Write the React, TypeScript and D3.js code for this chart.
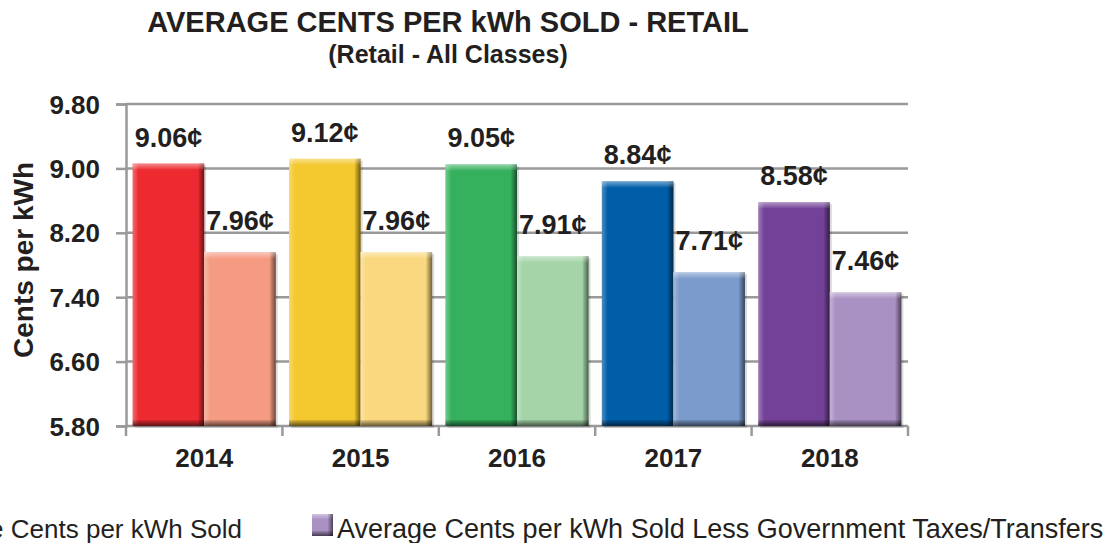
import React, { useEffect, useRef } from 'react';
import * as d3 from 'd3';

const years = ['2014', '2015', '2016', '2017', '2018'];
const soldValues = [9.06, 9.12, 9.05, 8.84, 8.58];
const lessTaxValues = [7.96, 7.96, 7.91, 7.71, 7.46];
const soldColors = ['#ec2a2f', '#f4c82f', '#35b15d', '#005da8', '#744199'];
const lessColors = ['#f59b82', '#f9d87f', '#a4d4a8', '#7a9bcb', '#a991c4'];
const yTicks = [5.8, 6.6, 7.4, 8.2, 9.0, 9.8];
const seriesNames = ['Average Cents per kWh Sold', 'Average Cents per kWh Sold Less Government Taxes/Transfers'];

const App = () => {
  const ref = useRef<SVGSVGElement>(null);

  useEffect(() => {
    const width = 1117;
    const height = 543;
    const left = 126, right = 908, top = 104, bottom = 426;
    const font = 'Arial, "Liberation Sans", sans-serif';
    const ink = '#231f20';

    const svg = d3.select(ref.current);
    svg.selectAll('*').remove();
    svg.attr('width', width).attr('height', height);

    const defs = svg.append('defs');
    const addGrad = (id, x2, y2, stops) => {
      const g = defs.append('linearGradient').attr('id', id)
        .attr('x1', 0).attr('y1', 0).attr('x2', x2).attr('y2', y2);
      stops.forEach(s => g.append('stop').attr('offset', s[0]).attr('stop-color', s[1]).attr('stop-opacity', s[2]));
    };
    addGrad('bevTop', 0, 1, [[0, '#fff', 0.45], [1, '#fff', 0.05]]);
    addGrad('bevLeft', 1, 0, [[0, '#fff', 0.3], [1, '#fff', 0]]);
    addGrad('bevRight', 1, 0, [[0, '#000', 0.05], [1, '#000', 0.55]]);
    addGrad('bevBottom', 0, 1, [[0, '#000', 0.1], [1, '#000', 0.6]]);

    const y = d3.scaleLinear().domain([5.8, 9.8]).range([bottom, top]);
    const x0 = d3.scaleBand().domain(years).range([left, right]).paddingInner(0.085).paddingOuter(0.0425);
    const x1 = d3.scaleBand().domain(['sold', 'less']).range([0, x0.bandwidth()]);

    // title
    svg.append('text').attr('x', 448).attr('y', 32).attr('text-anchor', 'middle')
      .attr('font-family', font).attr('font-weight', 'bold').attr('font-size', 29).attr('fill', ink)
      .text('AVERAGE CENTS PER kWh SOLD - RETAIL');
    svg.append('text').attr('x', 448).attr('y', 63).attr('text-anchor', 'middle')
      .attr('font-family', font).attr('font-weight', 'bold').attr('font-size', 25).attr('fill', ink)
      .text('(Retail - All Classes)');

    // grid
    svg.append('g').selectAll('line').data(yTicks.slice(1)).enter().append('line')
      .attr('x1', left).attr('x2', right).attr('y1', d => y(d)).attr('y2', d => y(d))
      .attr('stroke', '#999').attr('stroke-width', 2.5);

    // y axis
    const yAxis = svg.append('g').attr('transform', `translate(${left},0)`)
      .call(d3.axisLeft(y).tickValues(yTicks).tickFormat(d3.format('.2f')).tickSize(10).tickPadding(16));
    yAxis.select('.domain').attr('stroke', '#999').attr('stroke-width', 2.5);
    yAxis.selectAll('.tick line').attr('stroke', '#999').attr('stroke-width', 2.5);
    yAxis.selectAll('.tick text').attr('font-family', font).attr('font-weight', 'bold')
      .attr('font-size', 26).attr('fill', ink).attr('dy', '0.35em');

    // x axis
    const xAxis = svg.append('g').attr('transform', `translate(0,${bottom})`);
    xAxis.append('line').attr('x1', left).attr('x2', right).attr('stroke', '#999').attr('stroke-width', 2.5);
    const step = x0.step();
    const bounds = d3.range(years.length + 1).map(i => left + i * step);
    xAxis.selectAll('.xt').data(bounds).enter().append('line')
      .attr('x1', d => d).attr('x2', d => d).attr('y1', 0).attr('y2', 10)
      .attr('stroke', '#999').attr('stroke-width', 2.5);
    xAxis.selectAll('.xl').data(years).enter().append('text')
      .attr('x', d => x0(d) + x0.bandwidth() / 2).attr('y', 41).attr('text-anchor', 'middle')
      .attr('font-family', font).attr('font-weight', 'bold').attr('font-size', 26).attr('fill', ink)
      .text(d => d);

    // y title
    svg.append('text').attr('transform', `translate(33,260) rotate(-90)`).attr('text-anchor', 'middle')
      .attr('font-family', font).attr('font-weight', 'bold').attr('font-size', 28).attr('fill', ink)
      .text('Cents per kWh');

    const bars = [];
    years.forEach((yr, i) => {
      bars.push({ yr, key: 'sold', v: soldValues[i], c: soldColors[i] });
      bars.push({ yr, key: 'less', v: lessTaxValues[i], c: lessColors[i] });
    });

    const bw = x1.bandwidth();
    const bev = 6;
    const g = svg.append('g').selectAll('g').data(bars).enter().append('g')
      .attr('transform', d => `translate(${x0(d.yr) + x1(d.key)},${y(d.v)})`);
    g.append('rect').attr('x', 2).attr('y', 2).attr('width', bw).attr('height', d => bottom - y(d.v))
      .attr('fill', '#000').attr('opacity', 0.15);
    g.append('rect').attr('width', bw).attr('height', d => bottom - y(d.v)).attr('fill', d => d.c);
    g.append('rect').attr('width', bev).attr('height', d => bottom - y(d.v)).attr('fill', 'url(#bevLeft)');
    g.append('rect').attr('x', bw - bev).attr('width', bev).attr('height', d => bottom - y(d.v)).attr('fill', 'url(#bevRight)');
    g.append('rect').attr('width', bw).attr('height', bev).attr('fill', 'url(#bevTop)');
    g.append('rect').attr('y', d => bottom - y(d.v) - bev).attr('width', bw).attr('height', bev).attr('fill', 'url(#bevBottom)');

    // value labels
    svg.append('g').selectAll('text').data(bars).enter().append('text')
      .attr('x', d => x0(d.yr) + x1(d.key) + bw / 2)
      .attr('y', d => y(d.v) - (d.key === 'sold' ? 17 : 22))
      .attr('text-anchor', 'middle').attr('font-family', font).attr('font-weight', 'bold')
      .attr('font-size', 27).attr('fill', ink)
      .text(d => d.v.toFixed(2) + '¢');

    // legend (first entry runs off the left edge, as in the source image)
    const lg = svg.append('g');
    lg.append('rect').attr('x', -60).attr('y', 514).attr('width', 21).attr('height', 22).attr('fill', soldColors[4]);
    lg.append('text').attr('x', 242).attr('y', 538).attr('text-anchor', 'end')
      .attr('font-family', font).attr('font-size', 26).attr('fill', ink).text(seriesNames[0]);
    lg.append('rect').attr('x', 312).attr('y', 514).attr('width', 21).attr('height', 22).attr('fill', lessColors[4]);
    lg.append('rect').attr('x', 312).attr('y', 514).attr('width', 21).attr('height', 5).attr('fill', 'url(#bevTop)');
    lg.append('rect').attr('x', 328).attr('y', 514).attr('width', 5).attr('height', 22).attr('fill', 'url(#bevRight)');
    lg.append('rect').attr('x', 312).attr('y', 531).attr('width', 21).attr('height', 5).attr('fill', 'url(#bevBottom)');
    lg.append('text').attr('x', 337).attr('y', 538)
      .attr('font-family', font).attr('font-size', 27).attr('fill', ink).text(seriesNames[1]);
  }, []);

  return <svg ref={ref} style={{ position: 'absolute', left: 0, top: 0, display: 'block' }}></svg>;
};

export default App;
